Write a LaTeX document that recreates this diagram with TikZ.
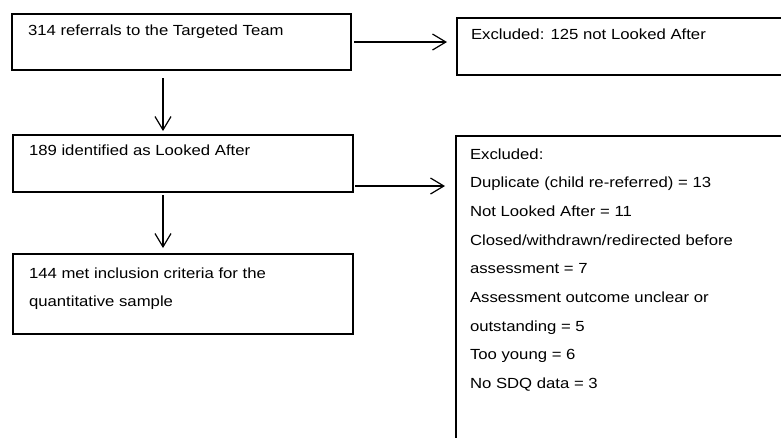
\documentclass[tikz,border=0pt]{standalone}
\usepackage{fontspec}
\setmainfont{Liberation Sans}[FakeStretch=1.14]
\usetikzlibrary{arrows.meta}

% box text: optional first baseline, width, height, text
\newcommand{\flowtext}[4][15.75pt]{%
  \begin{minipage}[t][#3][t]{#2}\raggedright\rule{0pt}{#1}#4\end{minipage}}

\tikzset{
  flowbox/.style={draw, line width=1.5pt, anchor=north west, inner xsep=12pt, inner ysep=0pt,
    font=\fontsize{11}{21.5}\selectfont},
  exclbox/.style={flowbox, inner xsep=10.5pt},
  arr/.style={-{Straight Barb[length=10pt,width=12pt]}, line width=0.9pt},
}

\begin{document}
\begin{tikzpicture}[x=0.75pt, y=-0.75pt]
  \useasboundingbox (0,0) rectangle (781,437);
  \clip (0,0) rectangle (781,437);

  \node (ref) [flowbox] at (11,13) {\flowtext{230.25pt}{42pt}{314 referrals to the Targeted Team}};
  \node (la) [flowbox] at (12,134) {\flowtext[15pt]{231pt}{42.75pt}{189 identified as Looked After}};
  \node (incl) [flowbox] at (12,253) {\flowtext[18pt]{231pt}{60pt}{144 met inclusion criteria for the\\
    quantitative sample}};

  \node (excl1) [exclbox] at (456,17) {\flowtext{234pt}{42.75pt}{Excluded: 125 not Looked After}};
  \node (excl2) [exclbox] at (455,135) {\flowtext[17.25pt]{234pt}{240pt}{Excluded:\\
    Duplicate (child re-referred) = 13\\
    Not Looked After = 11\\
    Closed/withdrawn/redirected before\\
    assessment = 7\\
    Assessment outcome unclear or\\
    outstanding = 5\\
    Too young = 6\\
    No SDQ data = 3}};

  \coordinate (spine) at (163,0);

  \draw[arr, shorten <=5.25pt, shorten >=2.25pt] (ref.south -| spine) -- (la.north -| spine);
  \draw[arr, shorten <=1.5pt, shorten >=3.75pt] (la.south -| spine) -- (incl.north -| spine);

  \draw[arr, shorten <=1.5pt, shorten >=6.75pt] (ref.east) -- (ref.east -| excl1.west);
  \draw[arr, shorten <=0.75pt, shorten >=7.5pt] ([yshift=5.25pt]la.south east) -- ([yshift=5.25pt]la.south east -| excl2.west);
\end{tikzpicture}
\end{document}
